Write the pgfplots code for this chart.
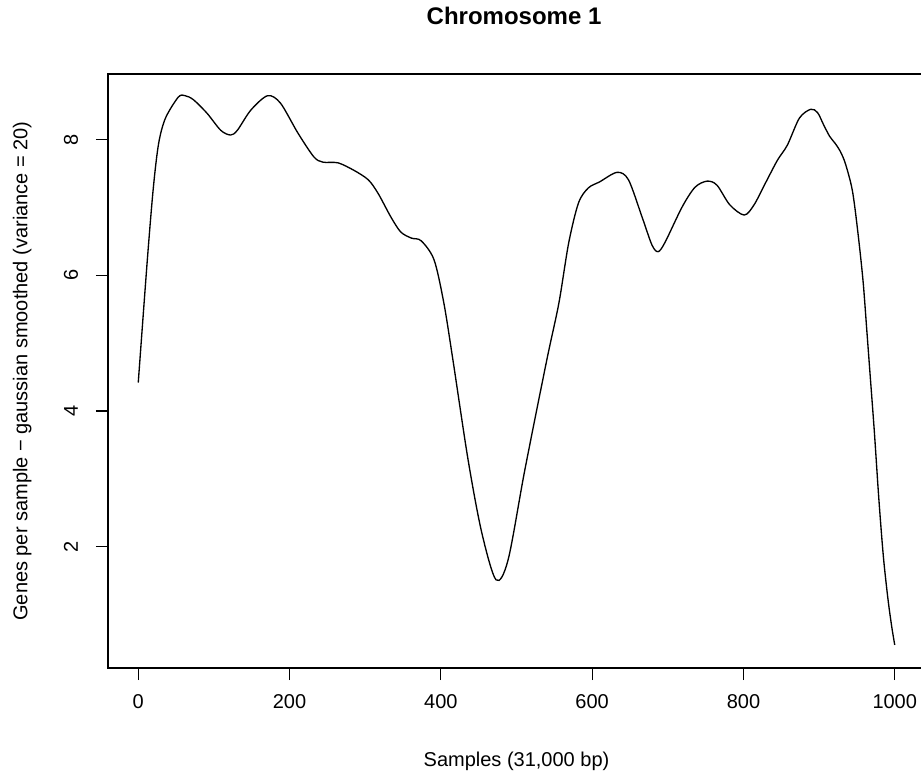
\documentclass[border=0pt]{standalone}
\usepackage{pgfplots}
\pgfplotsset{compat=1.18}
\usepackage{fontspec}
\setmainfont{Liberation Sans}
\begin{document}
\begin{tikzpicture}
\begin{axis}[
  name=ax, at={(0,0)}, anchor=south west,
  scale only axis, width=612.75pt, height=445.5pt,
  xmin=-40, xmax=1040, ymin=0.21, ymax=8.97,
  xtick={0,200,400,600,800,1000}, ytick={2,4,6,8},
  tick align=outside, tick pos=left, major tick length=9pt,
  every tick/.style={black, line width=0.8pt},
  axis line style={line width=0.8pt},
  tick label style={font=\fontsize{15}{18}\selectfont},
  /pgf/number format/assume math mode=true,
  /pgf/number format/1000 sep={},
  xticklabel style={anchor=base, yshift=-21.5pt},
  yticklabel style={anchor=base, xshift=-13.5pt, rotate=90},
  xlabel={Samples (31,000 bp)},
  xlabel style={at={(axis description cs:0.5,-0.1666)}, anchor=base, font=\fontsize{15}{18}\selectfont},
  ylabel={Genes per sample − gaussian smoothed (variance = 20)},
  ylabel style={at={(axis description cs:-0.0986,0.5)}, anchor=base, font=\fontsize{15}{18}\selectfont},
  title={Chromosome 1},
  title style={at={(axis description cs:0.497,1.0707)}, anchor=base, font=\fontsize{18}{21.6}\selectfont\bfseries},
]
\addplot[black, line width=1pt, smooth, tension=0.5] coordinates {
(0,4.42) (12,6.23) (20,7.30) (27,7.95) (36,8.32) (53,8.63) (62,8.65) (73,8.59)
(91,8.39) (109,8.14) (122,8.07) (131,8.14) (149,8.44) (171,8.65) (188,8.54)
(211,8.10) (232,7.75) (244,7.67) (264,7.66) (285,7.55) (304,7.41) (317,7.21)
(334,6.86) (347,6.64) (361,6.55) (374,6.51) (391,6.23) (404,5.59) (416,4.75)
(436,3.28) (454,2.21) (473,1.51) (489,1.81) (511,3.13) (540,4.75) (556,5.59)
(569,6.48) (582,7.07) (595,7.29) (610,7.38) (633,7.52) (648,7.41) (666,6.86)
(679,6.45) (687,6.35) (696,6.48) (719,7.01) (736,7.30) (752,7.39) (765,7.33)
(782,7.04) (801,6.89) (814,7.04) (829,7.36) (845,7.70) (858,7.92) (874,8.32)
(889,8.45) (898,8.40) (906,8.22) (914,8.05) (921,7.95) (928,7.83) (935,7.64)
(944,7.25) (951,6.66) (958,5.93) (963,5.20) (967,4.60) (973,3.70) (979,2.70)
(985,1.85) (991,1.23) (996,0.82) (1000,0.55)
};
\end{axis}
\pgfresetboundingbox
\path[use as bounding box] (-81pt,-77.25pt) rectangle (609.75pt,501pt);
\end{tikzpicture}
\end{document}
